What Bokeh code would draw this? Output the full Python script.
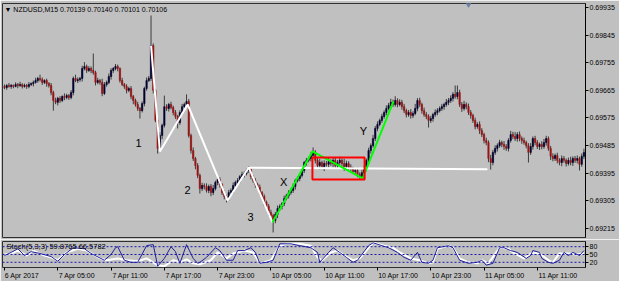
from bokeh.plotting import figure
from bokeh.models import Range1d, FixedTicker, Label, Span, PrintfTickFormatter
from bokeh.layouts import column
from bokeh.embed import file_html
from bokeh.resources import INLINE
from bokeh.core.properties import value

# ---------------- data (prices in points above 0.69000) ----------------
BASE = 0.69
open0 = 678
close_pts = [
    674,681,678,681,678,684,681,684,678,681,
    678,684,687,691,697,704,700,691,697,687,
    681,658,632,626,639,632,645,642,648,642,
    658,704,697,700,704,736,743,730,736,730,
    723,691,697,691,655,684,691,710,730,736,
    743,736,697,684,678,665,671,645,632,619,
    606,599,622,671,697,704,811,665,567,476,
    518,551,612,606,619,609,593,580,560,593,
    612,619,629,518,469,443,420,388,345,355,
    352,339,352,332,345,365,375,358,332,319,
    313,332,339,355,365,371,384,391,394,404,
    407,384,371,358,349,332,319,300,287,267,
    257,241,261,280,287,296,313,322,332,339,
    352,371,378,388,404,430,437,443,453,463,
    437,420,430,417,427,424,433,427,437,420,
    430,437,427,417,427,414,410,401,404,391,
    384,397,410,437,469,485,508,541,554,567,
    580,593,606,616,626,619,632,619,626,612,
    599,586,593,583,590,606,632,619,599,586,
    580,567,573,586,593,599,606,612,619,626,
    632,639,652,645,658,619,606,619,612,593,
    583,567,547,554,534,521,502,495,443,430,
    463,476,485,495,489,482,476,502,521,515,
    508,521,508,502,495,485,463,482,508,495,
    482,489,482,495,508,476,450,443,453,437,
    430,443,437,427,437,430,443,437,443,424,
    450,463,
]
up_wick = [
    6,4,8,5,3,7,5,9,4,6, 5,8,4,6,9,5,12,7,4,6, 5,8,6,9,5,7,4,10,6,5,
    8,6,12,7,5,9,14,6,8,7, 55,6,9,5,12,8,6,10,7,5, 8,6,4,9,5,7,6,8,5,6,
    9,5,7,6,10,8,98,7,5,8, 10,6,36,8,5,9,6,8,5,7, 9,6,23,8,6,10,5,8,6,9,
    7,10,6,8,12,6,9,7,5,8, 6,9,7,10,6,8,5,9,7,6, 10,7,5,8,6,9,5,7,6,8,
    9,6,8,10,7,5,9,6,8,7, 10,6,8,7,9,5,8,6,10,16, 7,9,12,6,10,8,14,7,9,11,
    8,12,6,15,9,7,10,6,8,9, 7,10,8,6,9,7,12,8,10,6, 9,7,10,8,12,9,14,7,10,8,
    9,6,8,11,7,15,8,9,6,10, 8,7,9,6,10,8,7,9,6,11, 8,10,7,29,23,9,8,12,7,10,
    8,6,9,7,10,8,6,9,7,12, 8,10,7,9,6,11,8,7,12,9, 14,8,10,7,9,6,8,11,7,9,
    8,6,10,12,9,7,8,10,6,9, 7,10,8,6,9,12,7,8,10,6, 9,12,
]
dn_wick = [
    5,7,4,8,6,3,9,5,7,4, 8,6,5,9,4,7,6,8,5,10, 7,9,33,6,10,8,5,9,6,8,
    6,9,5,8,7,10,6,8,5,9, 7,10,6,8,9,5,7,6,10,8, 6,9,7,5,8,10,6,9,12,7,
    8,26,6,9,7,5,8,10,6,17, 9,12,7,8,10,6,9,8,19,7, 8,6,9,7,10,8,12,9,16,8,
    10,7,9,12,8,6,9,10,8,9, 13,8,7,10,6,9,8,7,10,6, 8,9,7,10,6,8,9,11,7,10,
    8,39,9,12,7,10,8,6,9,7, 8,10,6,9,7,8,10,6,9,7, 10,8,12,9,15,7,10,8,13,9,
    11,8,10,14,7,9,12,8,10,9, 7,10,8,9,6,10,7,8,9,6, 8,7,9,6,10,8,7,9,6,10,
    8,9,7,10,8,6,9,8,10,7, 9,23,8,10,7,9,6,8,10,7, 9,8,10,7,9,8,11,7,9,8,
    10,8,9,7,11,8,10,9,12,23, 9,8,10,7,9,11,8,10,7,9, 8,10,9,11,7,9,33,8,10,9,
    8,11,9,7,10,8,12,9,8,10, 9,12,8,10,7,9,11,8,10,20, 8,9,
]

# time axis (bar index -> label)
tick_idx = [0, 24, 48, 72, 96, 120, 144, 168, 192, 216, 240]
tick_lbl = ["6 Apr 2017", "7 Apr 05:00", "7 Apr 11:00", "7 Apr 17:00", "7 Apr 23:00",
            "10 Apr 05:00", "10 Apr 11:00", "10 Apr 17:00", "10 Apr 23:00",
            "11 Apr 05:00", "11 Apr 11:00"]
price_ticks = [0.69215, 0.69305, 0.69395, 0.69485, 0.69575, 0.69665, 0.69755, 0.69845, 0.69935]

# drawn objects (bar index, price points)
zig_i = [66, 70, 82.5, 100.5, 110, 120.7]
zig_p = [811, 466, 619, 306, 414, 235]
green_i = [120.7, 138.7, 161.3, 175.2]
green_p = [235, 466, 378, 629]
level_i = [110, 217.5]
level_p = [413, 408]
box_i = [138.7, 162.2]
box_p = [375, 446]
lab_i = [60.4, 82.4, 110.8, 125.7, 161.7]
lab_p = [492, 339, 251, 365, 534]
lab_txt = ["1", "2", "3", "X", "Y"]
shift_i = [209]
shift_p = [945]

# stochastic (5,3,3)
k_i = [0,3,6,9,12,16,21,24,27,31,36,39,45,48,50,51,54,57,60,64,67,69,72,75,77,79,82,85,87,88,
       91,95,97,100,103,105,108,111,113,115,118,121,124,129,133,138,141,142,146,148,151,154,157,159,
       164,166,170,173,177,180,183,186,188,191,193,195,200,202,205,209,213,215,217,220,223,225,228,
       231,235,237,238,241,242,245,247,250,252,254,256,259,261]
k_v = [46,58,72,46,61,54,42,24,50,76,72,54,28,50,76,80,28,20,20,84,88,5,35,80,61,16,88,35,16,20,
       39,76,65,28,28,65,65,76,58,16,20,28,91,91,84,76,58,20,58,76,58,39,20,28,
       84,95,84,76,58,39,28,58,20,16,28,76,84,76,28,16,20,28,9,16,76,76,65,
       58,35,46,65,58,35,20,16,28,58,46,58,46,65]
d_i = [0,3,6,10,13,18,21,24,28,33,37,43,46,51,55,60,64,69,72,76,79,82,85,88,93,96,100,103,108,112,
       115,120,124,127,133,138,141,143,147,150,153,157,160,164,166,171,175,178,183,187,191,193,195,
       200,202,205,209,213,215,218,223,227,229,234,238,241,245,247,250,254,258,261]
d_v = [50,54,65,46,65,46,39,28,58,72,65,35,28,35,28,24,35,9,5,28,20,31,16,12,28,58,35,54,65,58,
       16,28,84,91,91,84,39,28,58,65,46,28,35,76,95,84,76,58,35,28,16,20,72,
       84,76,35,20,16,28,16,76,72,58,35,58,54,28,20,54,54,50,54]
stoch_levels = [20, 50, 80]

# ---------------- build ----------------
def P(v):
    return BASE + v / 1e5

n = len(close_pts)
idx = list(range(n))
opens = [open0] + close_pts[:-1]
hi = [max(o, c) + u for o, c, u in zip(opens, close_pts, up_wick)]
lo = [min(o, c) - d for o, c, d in zip(opens, close_pts, dn_wick)]

bull = [i for i in idx if close_pts[i] >= opens[i]]
bear = [i for i in idx if close_pts[i] < opens[i]]

BG = "#C0C0C0"
FONT = "Liberation Sans"
PX_PER_BAR = 583 / 262.6      # frame width / visible bars
CHAR_W = 3.3                  # approx. px per character at 7px

xr = Range1d(-0.9, 261.7)
p = figure(width=619, height=239, x_range=xr, y_range=Range1d(0.691857, 0.69948),
           output_backend="svg", toolbar_location=None, x_axis_location=None,
           y_axis_location="right", min_border_left=2, min_border_right=34,
           min_border_top=3, min_border_bottom=2)
p.background_fill_color = BG
p.border_fill_color = BG
p.outline_line_color = "#303030"
p.grid.visible = False
ya = p.yaxis[0]
ya.ticker = FixedTicker(ticks=price_ticks)
ya.formatter = PrintfTickFormatter(format="%.5f")
ya.axis_line_color = "black"
ya.major_tick_line_color = "black"
ya.major_tick_out = 3
ya.major_tick_in = 0
ya.minor_tick_line_color = None
ya.major_label_standoff = 1
ya.major_label_text_font = FONT
ya.major_label_text_font_size = "7px"
ya.major_label_text_color = "black"

p.segment(x0=idx, y0=[P(v) for v in lo], x1=idx, y1=[P(v) for v in hi],
          line_color="#3c3c3c", line_width=1)
p.vbar(x=bull, width=0.6, top=[P(close_pts[i]) for i in bull], bottom=[P(opens[i]) for i in bull],
       fill_color="#000030", line_color="#000030", line_width=0.6)
p.vbar(x=bear, width=0.6, top=[P(opens[i]) for i in bear], bottom=[P(close_pts[i]) for i in bear],
       fill_color="#9A1414", line_color="#9A1414", line_width=0.6)

p.line(level_i, [P(v) for v in level_p], line_color="white", line_width=2)
p.line(zig_i, [P(v) for v in zig_p], line_color="white", line_width=2)
p.line(green_i, [P(v) for v in green_p], line_color="#00FF00", line_width=2)
p.quad(left=[box_i[0]], right=[box_i[1]], bottom=[P(box_p[0])], top=[P(box_p[1])],
       fill_color=None, line_color="#FF0000", line_width=2)
p.text(x=lab_i, y=[P(v) for v in lab_p], text=lab_txt, text_font=value(FONT),
       text_font_size="11px", text_align="center", text_baseline="middle", text_color="black")
p.scatter(x=shift_i, y=[P(v) for v in shift_p], marker="inverted_triangle", size=5,
          fill_color="#6A84A8", line_color="#6A84A8")
p.add_layout(Label(x=2, y=228, x_units="screen", y_units="screen",
                   text="\u25BC NZDUSD,M15  0.70139 0.70140 0.70101 0.70106",
                   text_font=FONT, text_font_size="7px", text_color="black",
                   text_baseline="middle"))

s = figure(width=619, height=42, x_range=xr, y_range=Range1d(0, 100),
           output_backend="svg", toolbar_location=None, y_axis_location="right",
           min_border_left=2, min_border_right=34, min_border_top=2, min_border_bottom=14)
s.background_fill_color = BG
s.border_fill_color = BG
s.outline_line_color = "#303030"
s.grid.visible = False
sy = s.yaxis[0]
sy.ticker = FixedTicker(ticks=stoch_levels)
sy.axis_line_color = "black"
sy.major_tick_line_color = "black"
sy.major_tick_out = 3
sy.major_tick_in = 0
sy.minor_tick_line_color = None
sy.major_label_standoff = 1
sy.major_label_text_font = FONT
sy.major_label_text_font_size = "7px"
sy.major_label_text_color = "black"

# MT4 style: label text starts at the tick -> shift label centres right
lbl_pos = [t + (len(l) * CHAR_W / 2 + 1) / PX_PER_BAR for t, l in zip(tick_idx, tick_lbl)]
sx = s.xaxis[0]
sx.ticker = FixedTicker(ticks=lbl_pos, minor_ticks=tick_idx)
sx.major_label_overrides = {c: l for c, l in zip(lbl_pos, tick_lbl)}
sx.axis_line_color = None
sx.major_tick_line_color = None
sx.major_tick_out = 3
sx.major_tick_in = 0
sx.minor_tick_line_color = "black"
sx.minor_tick_out = 3
sx.minor_tick_in = 0
sx.major_label_standoff = 1
sx.major_label_text_font = FONT
sx.major_label_text_font_size = "7px"
sx.major_label_text_color = "black"

for lv in stoch_levels:
    s.add_layout(Span(location=lv, dimension="width", line_color="#1818A8",
                      line_dash="2 2", line_width=1))
s.line(d_i, d_v, line_color="white", line_width=2)
s.line(k_i, k_v, line_color="#20209A", line_width=1)
s.add_layout(Label(x=4, y=21, x_units="screen", y_units="screen",
                   text="Stoch(5,3,3) 59.8765 66.5782", text_font=FONT,
                   text_font_size="7.5px", text_color="black", text_baseline="middle"))
s.add_layout(Label(x=587, y=22, x_units="screen", y_units="screen", text="100",
                   text_font=FONT, text_font_size="7px", text_color="black",
                   text_baseline="middle"))
s.add_layout(Label(x=587, y=4, x_units="screen", y_units="screen", text="0",
                   text_font=FONT, text_font_size="7px", text_color="black",
                   text_baseline="middle"))

layout = column(p, s, spacing=0)
open("out.html", "w").write(file_html(layout, INLINE))
